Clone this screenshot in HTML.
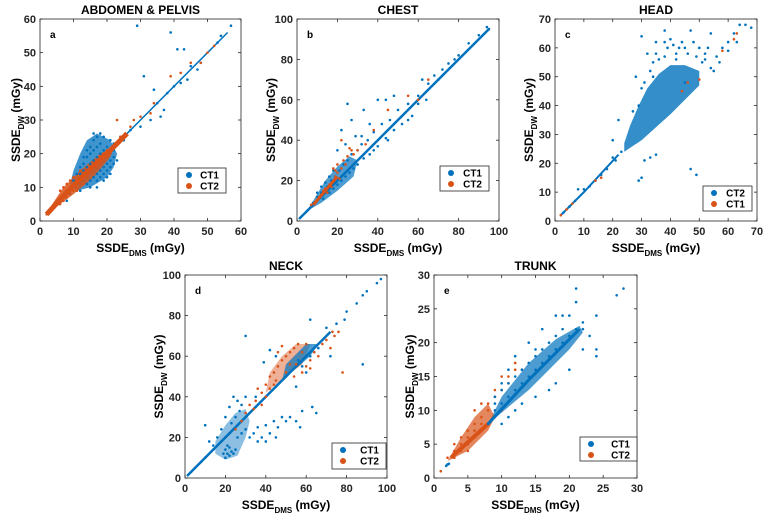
<!DOCTYPE html>
<html><head><meta charset="utf-8"><style>
body{margin:0;background:#fff;width:771px;height:517px;overflow:hidden}
svg{font-family:"Liberation Sans",Arial,sans-serif;font-weight:bold}
</style></head><body>
<svg id="c" width="771" height="517"></svg>
<script>
const blue="#0072BD",orange="#D95319";
// panel a
const aTicks=[0,10,20,30,40,50,60];
const aBlueCloud="11,9 15,10 20,13 22,16 23,20 21,24 17,26 14,24 12,20 10,15 9,11";
const aOrangeCloud="2,2 10,8 16,13 21,19 22,22 18,20 12,15 7,10 3,4";
const aBlue="10,10 11,12 12,11 12,14 13,12 13,15 13,17 14,11 14,13 14,16 14,19 15,12 15,14 15,17 15,20 15,22 16,13 16,15 16,18 16,21 16,24 17,12 17,14 17,16 17,19 17,22 17,25 18,13 18,15 18,17 18,20 18,23 19,14 19,16 19,18 19,21 19,25 20,15 20,17 20,19 20,22 21,16 21,18 21,20 22,17 22,19 12,16 11,14 10,12 9,10 13,19 14,21 16,26 18,26 19,12 20,13 21,14 22,21 23,18 8,6 9,8 29,58 39,56 41,51 43,51 44,42 47,45 36,31 31,43 34,39 30,28 33,30 37,33 40,40 48,47 53,53 57,58 54,55 45,46 42,41 38,38 35,35 27,27 25,24 24,25 21,24 22,23 12,9 15,10 17,10";
const aBlueLine="2,2 10,10 20,20 30,30 40,40 52,52 56,56";
const aOrange="2,2 3,3 4,4 5,5 5,6 6,5 6,7 7,6 7,8 8,7 8,9 9,8 9,10 10,9 10,11 11,10 11,12 12,11 12,13 13,12 13,14 14,13 14,15 15,14 15,16 16,15 16,17 17,16 17,18 18,17 18,19 19,18 19,20 20,19 20,21 21,20 22,22 7,10 8,11 9,12 10,13 6,9 12,15 11,9 13,11 23,30 24,25 27,28 30,31 33,32 39,43 42,44 45,47 48,47 50,50 52,52 34,35 28,30";
const aOrangeLine="2,2 8,8.5 14,14.5 21,21 26,26";
// panel b
const bTicks=[0,20,40,60,80,100];
const bBlueCloud="5,5 12,9 20,15 28,22 30,30 26,32 20,27 14,20 8,10";
const bBlue="5,5 8,9 10,12 12,14 13,11 15,17 16,14 17,20 18,16 19,22 20,18 21,25 22,20 23,28 24,22 25,30 26,24 27,33 28,26 30,35 30,28 32,38 33,31 35,40 36,33 38,44 40,37 42,48 44,41 46,50 48,45 50,55 52,48 55,58 57,52 60,62 22,45 25,58 27,50 29,42 33,55 40,60 44,60 48,62 62,70 65,68 68,72 70,70 75,78 80,82 85,88 90,92 95,95 94,96 72,75 78,80 55,50 45,40 38,35 18,25 16,22 14,19 12,17 10,14 60,58 64,60 32,42 36,48 20,35 24,38";
const bBlueLine="1,1 20,20 40,40 60,60 80,80 95,95";
const bOrange="10,10 12,13 14,16 15,14 16,18 17,17 18,20 19,22 20,24 21,21 22,26 23,30 24,28 25,32 26,36 27,35 28,33 22,40 30,35 34,38 38,45 45,55 55,62 60,60 65,70 20,28 19,25 13,15 11,12 9,9 7,8 18,26";
const bOrangeLine="8,8 14,15 20,22";
// panel c
const cTicks=[0,10,20,30,40,50,60,70];
const cWedge="24,24 30,28 40,37 50,47 50,52 45,54 40,54 36,51 32,46 29,40 26,33 24,27";
const cBlue="30,64 35,62 38,66 40,63 42,58 45,60 47,66 48,62 50,60 52,58 54,65 56,57 58,60 60,62 62,65 64,68 66,68 68,67 63,62 60,59 28,50 30,46 32,58 34,55 22,35 20,28 20,22 31,21 33,22 35,23 30,15 29,14 47,18 49,16 3,3 5,5 7,7 8,11 10,11 12,12 14,14 16,16 18,18 21,21 23,24 55,52 57,55 45,48 38,62 41,61 44,62 46,58 52,56 54,53 29,40 27,38 31,48 33,52 35,58 39,60 43,60 49,57 51,55 53,60 36,56 38,57 42,56 34,50";
const cBlueLine="2,2 10,10 22,23";
const cOrange="2,2 4,4 6,6 14,14 16,15 44,45 46,48 50,49 58,59 62,63 63,65";
// panel d
const dTicks=[0,20,40,60,80,100];
const dBlueCloud="15,12 20,9 26,11 30,20 32,28 30,34 25,32 20,26 15,18";
const dStripeCloud="48,48 62,60 66,66 60,66 50,56";
const dOrangeCloud="40,42 50,50 58,56 62,66 55,66 48,60 42,52";
const dBlue="20,10 21,12 22,11 23,13 20,14 22,15 24,12 25,14 19,12 21,16 18,18 20,20 22,22 24,24 26,26 28,28 23,27 25,30 27,33 22,35 24,40 26,38 28,36 30,40 20,30 18,24 16,20 14,16 12,18 10,26 30,70 32,20 34,22 36,25 38,20 40,26 42,22 44,28 46,25 48,30 50,28 52,30 55,28 57,25 36,18 40,18 45,20 30,24 26,20 28,22 55,45 58,33 63,35 65,32 62,60 64,62 66,64 58,55 56,58 60,52 70,74 75,76 80,82 85,86 88,90 90,92 95,96 97,98 79,78 72,60 88,56 5,5 8,8 10,10 3,3 14,14 35,35 40,40 45,45 50,50 55,55 60,60 62,78 42,63 45,60 39,57 35,40";
const dBlueLine="1,1 20,20 40,40 60,60 72,72";
const dOrange="35,38 38,42 40,46 42,50 44,52 45,48 46,55 48,58 50,60 50,52 52,62 54,64 55,56 56,66 58,62 60,66 62,58 64,62 66,60 68,66 70,68 72,64 73,72 74,70 76,72 78,52 46,62 48,65 52,56 42,44 40,40 38,36 34,34 30,32 28,28 25,24 32,36 36,44 44,46 54,50 58,52 60,55 62,54";
// panel e
const eTicks=[0,5,10,15,20,25,30];
const eBlueCloud="8,8 14,13 20,19 22,21.5 21.5,22.5 18,20.5 14,17 10,12";
const eOrangeCloud="2,2.5 5,4 8,7 9,9 8,11 6,9 4,6";
const eBlue="8,8 9,10 9,12 10,11 10,13 11,12 11,14 12,13 12,15 13,14 13,16 14,15 14,17 15,16 15,18 16,17 16,19 17,18 17,20 18,19 18,21 19,20 19,22 20,21 21,22 22,22 18,24 20,24 21,28 21,26 27,27 28,28 24,24 24,19 24,18 22,19 23,21 20,16 18,14 17,13 15,12 13,11 12,10 11,9 10,8 14,20 15,19 12,18 11,16 16,22 2,2 1.8,1.8 2.2,2.1 19,24 22,23 10,14 9,11";
const eBlueLine="8,8 14,14.5 21.5,22";
const eOrange="1,1 2,3 3,3 3,4 4,4 4,5 5,5 5,6 6,6 6,7 7,7 7,8 8,8 5,7 6,8 7,9 8,11 9,12 10,13 11,15 12,16 9,13 10,15 11,14 8,10 7,11 6,10 9,9 10,10 13,16 12,17 4,6 3,5 5,4";
const eOrangeLine="2.5,3 8,8";

const NS="http://www.w3.org/2000/svg",svg=document.getElementById('c');
function mk(t,a,p){const e=document.createElementNS(NS,t);for(const k in a)e.setAttribute(k,a[k]);(p||svg).appendChild(e);return e;}
function pts(s){return s.trim().split(/\s+/).map(p=>p.split(',').map(Number));}
function panel(o){
  const g=mk('g',{});
  
  
  const max=o.ticks[o.ticks.length-1];
  const X=v=>o.l+(v/max)*(o.r-o.l), Y=v=>o.b-(v/max)*(o.b-o.t);
  mk('rect',{x:o.l,y:o.t,width:o.r-o.l,height:o.b-o.t,fill:'#fff'},g);
  const plot=mk('g',{},g);
  (o.clouds||[]).forEach(cl=>{
    const w=mk('polygon',{points:pts(cl.p).map(p=>X(p[0])+','+Y(p[1])).join(' '),fill:cl.c,'fill-opacity':cl.op},plot);
    
    
  });
  o.order.forEach(s=>{
    if(s.line){const l=mk('polyline',{points:pts(s.line).map(p=>X(p[0])+','+Y(p[1])).join(' '),fill:'none',stroke:s.c,'stroke-width':s.w||2.5},plot);
      
      }
    pts(s.p).forEach(p=>{const c=mk('circle',{cx:X(p[0]),cy:Y(p[1]),r:1.3,fill:s.c},plot);
      
      });
  });
  mk('rect',{x:o.l,y:o.t,width:o.r-o.l,height:o.b-o.t,fill:'none',stroke:'#262626','stroke-width':0.8},g);
  o.ticks.forEach(t=>{
    const x=X(t),y=Y(t);
    mk('line',{x1:x,x2:x,y1:o.b,y2:o.b-3,stroke:'#262626','stroke-width':0.8},g);
    mk('line',{x1:x,x2:x,y1:o.t,y2:o.t+3,stroke:'#262626','stroke-width':0.8},g);
    mk('line',{x1:o.l,x2:o.l+3,y1:y,y2:y,stroke:'#262626','stroke-width':0.8},g);
    mk('line',{x1:o.r,x2:o.r-3,y1:y,y2:y,stroke:'#262626','stroke-width':0.8},g);
    const tx=mk('text',{x:x,y:o.b+14,'text-anchor':'middle','font-size':11,fill:'#262626'},g);tx.textContent=t;
    
    
    const ty=mk('text',{x:o.l-4,y:y+4,'text-anchor':'end','font-size':11,fill:'#262626'},g);ty.textContent=t;
    
    
  });
  const ti=mk('text',{x:(o.l+o.r)/2,y:o.t-5,'text-anchor':'middle','font-size':12,fill:'#000'},g);ti.textContent=o.title;
  
  
  const lt=mk('text',{x:o.l+10,y:o.t+19,'font-size':10,fill:'#000'},g);lt.textContent=o.id;
  
  
  const xl=mk('text',{x:(o.l+o.r)/2,y:o.b+31,'text-anchor':'middle','font-size':12,fill:'#000'},g);
  xl.innerHTML='SSDE<tspan font-size="8" dy="4">DMS</tspan><tspan dy="-4"> (mGy)</tspan>';
  
  
  const cy=(o.t+o.b)/2,cx=o.l-o.yl;
  const yl=mk('text',{x:cx,y:cy,'text-anchor':'middle','font-size':12,fill:'#000',transform:`rotate(-90 ${cx} ${cy})`},g);
  yl.innerHTML='SSDE<tspan font-size="8" dy="4">DW</tspan><tspan dy="-4"> (mGy)</tspan>';
  
  
  const L=o.leg,lg=mk('g',{},g);
  
  
  mk('rect',{x:L[0],y:L[1],width:L[2],height:L[3],fill:'#fff',stroke:'#262626','stroke-width':0.8},lg);
  o.legNames.forEach((n,i)=>{
    const yy=L[1]+7+i*11;
    mk('circle',{cx:L[0]+11,cy:yy,r:3,fill:i==0?blue:orange},lg);
    const t=mk('text',{x:L[0]+L[2]-7,y:yy+3.5,'text-anchor':'end','font-size':10,fill:'#000'},lg);t.textContent=n;
    
    
  });
}
panel({id:'a',title:'ABDOMEN & PELVIS',l:40,r:241,t:19,b:221,yl:20,ticks:aTicks,leg:[178,168,48,25],legNames:['CT1','CT2'],
  clouds:[{p:aBlueCloud,c:blue,op:0.75},{p:aOrangeCloud,c:orange,op:0.85}],
  order:[{n:'ct1',c:blue,p:aBlue,line:aBlueLine,w:1.5},{n:'ct2',c:orange,p:aOrange,line:aOrangeLine,w:5}]});
panel({id:'b',title:'CHEST',l:297,r:499,t:19,b:221,yl:22,ticks:bTicks,leg:[440,166,49,25],legNames:['CT1','CT2'],
  clouds:[{p:bBlueCloud,c:blue,op:0.7}],
  order:[{n:'ct1',c:blue,p:bBlue,line:bBlueLine,w:2.5},{n:'ct2',c:orange,p:bOrange,line:bOrangeLine,w:3}]});
panel({id:'c',title:'HEAD',l:555,r:757,t:19,b:221,yl:22,ticks:cTicks,leg:[703,186,49,25],legNames:['CT2','CT1'],
  clouds:[{p:cWedge,c:blue,op:0.8}],
  order:[{n:'ct2',c:blue,p:cBlue,line:cBlueLine,w:2},{n:'ct1',c:orange,p:cOrange}]});
panel({id:'d',title:'NECK',l:185,r:387,t:275,b:478,yl:22,ticks:dTicks,leg:[332,443,54,26],legNames:['CT1','CT2'],
  clouds:[{p:dBlueCloud,c:blue,op:0.45},{p:dOrangeCloud,c:orange,op:0.45},{p:dStripeCloud,c:blue,op:0.7}],
  order:[{n:'ct1',c:blue,p:dBlue,line:dBlueLine,w:2.5},{n:'ct2',c:orange,p:dOrange}]});
panel({id:'e',title:'TRUNK',l:434,r:637,t:275,b:478,yl:20,ticks:eTicks,leg:[580,437,57,24],legNames:['CT1','CT2'],
  clouds:[{p:eBlueCloud,c:blue,op:0.7},{p:eOrangeCloud,c:orange,op:0.7}],
  order:[{n:'ct2',c:orange,p:eOrange,line:eOrangeLine,w:4},{n:'ct1',c:blue,p:eBlue,line:eBlueLine,w:3}]});
</script>
</body></html>
